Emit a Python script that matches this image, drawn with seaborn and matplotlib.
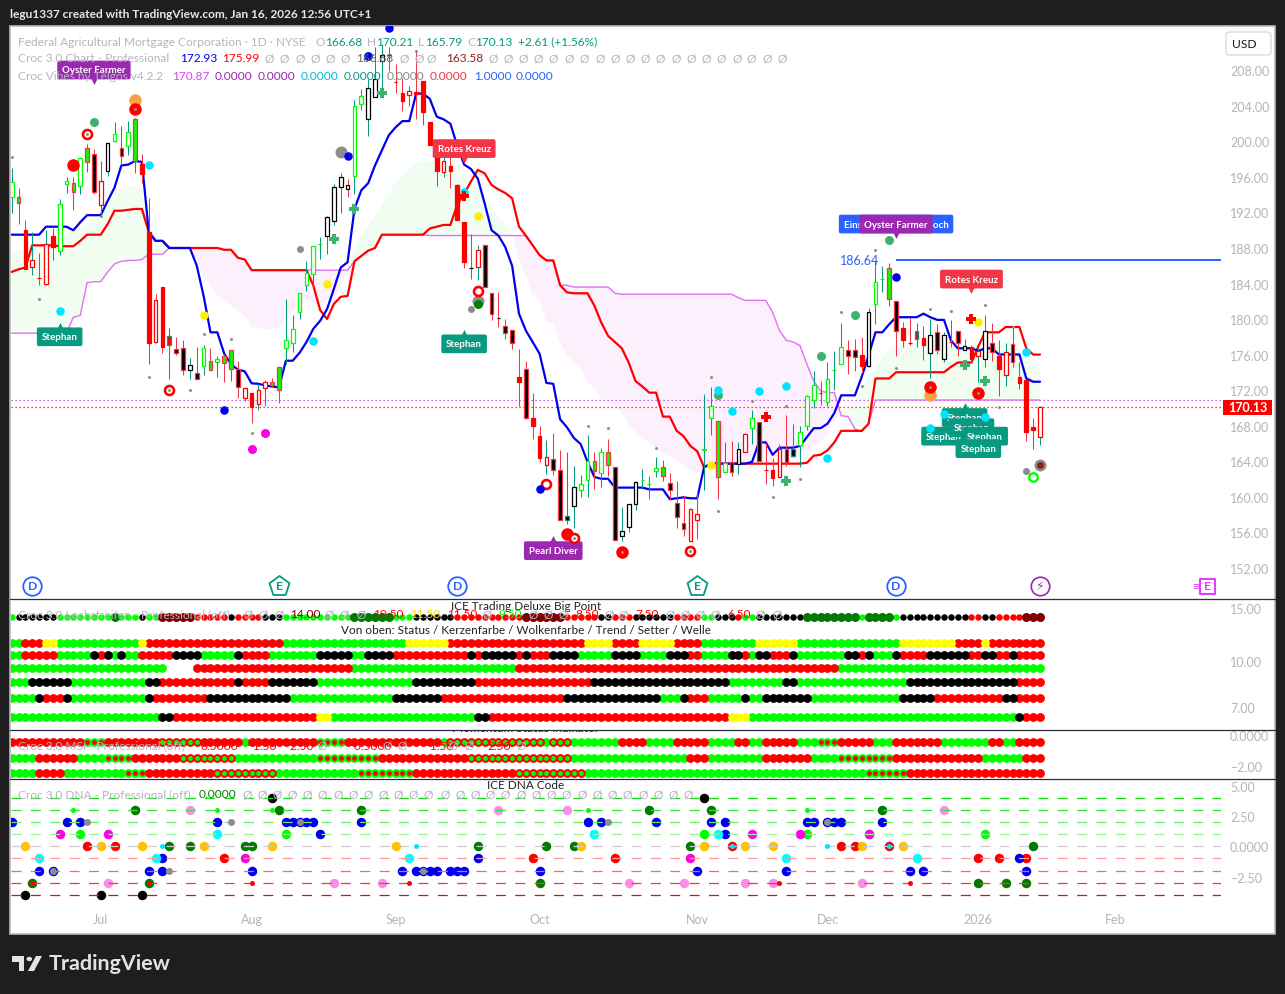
import matplotlib
matplotlib.use("Agg")

import matplotlib.pyplot as plt
from matplotlib.lines import Line2D
from matplotlib.patches import Rectangle, Polygon, Circle, FancyBboxPatch
import seaborn as sns
import numpy as np

W, H = 1285, 995
XMIN, XMAX = -0.17, 176.4

# candle bodies / wicks, prices
body_top = [195.4,193.8,190.0,186.6,184.6,188.5,189.3,193.0,195.6,195.3,
            198.1,199.3,198.6,195.5,199.8,200.9,199.3,201.1,202.5,197.5,
            189.8,182.1,183.6,178.05,176.6,176.7,174.8,173.9,176.7,175.3,
            175.5,175.8,176.5,174.4,172.2,171.7,172.0,172.9,172.9,174.6,
            177.6,178.9,182.9,185.2,188.2,188.5,191.5,194.9,196.0,195.1,
            204.0,205.1,206.0,207.0,209.7,209.8,206.7,205.5,205.7,205.6,
            206.8,202.2,198.4,197.8,197.2,195.1,190.9,185.8,187.8,188.3,
            182.9,180.1,179.2,178.8,173.5,174.4,168.9,166.8,164.4,164.2,
            163.0,157.8,161.1,161.4,164.0,164.0,165.0,165.0,163.3,156.1,
            159.2,161.6,161.9,161.4,163.2,163.3,161.5,159.3,157.0,158.6,
            158.0,165.4,170.2,168.5,163.8,163.9,165.4,167.0,168.9,168.4,
            163.0,163.0,165.3,165.4,165.3,167.3,171.3,172.6,171.7,173.2,
            174.2,176.8,176.5,176.5,176.0,180.8,184.2,184.5,185.8,182.0,
            179.0,177.3,178.6,177.9,178.2,178.5,178.2,177.4,178.6,177.0,
            176.8,176.4,178.6,177.3,175.8,176.3,177.2,173.5,173.1,167.8,
            170.13]
body_bot = [193.7,193.1,185.6,185.9,184.6,183.9,188.1,187.7,195.2,194.3,
            195.0,197.7,194.3,192.8,196.7,200.1,198.4,199.5,197.8,196.3,
            177.3,177.4,176.8,177.1,176.2,174.3,174.3,173.2,174.7,174.3,
            175.2,175.0,174.4,172.3,171.1,170.1,170.4,172.2,172.6,172.0,
            176.7,177.3,180.75,183.8,185.1,188.5,189.4,191.0,194.9,194.6,
            196.1,204.2,202.5,205.0,209.1,209.8,206.7,204.6,205.2,205.3,
            203.3,199.6,196.7,196.6,196.7,191.2,186.4,185.8,185.9,183.6,
            180.6,180.1,178.4,177.3,172.9,168.9,167.9,164.3,163.5,163.0,
            157.4,157.4,158.9,160.7,161.9,162.9,162.6,163.5,155.1,155.5,
            156.6,159.1,161.9,161.4,162.9,162.3,160.7,157.7,156.3,155.0,
            157.3,165.2,168.9,162.2,162.8,162.8,163.7,165.0,167.7,164.0,
            163.0,162.1,162.2,163.9,164.6,165.8,167.9,170.9,171.7,170.7,
            174.2,174.9,175.8,175.7,174.7,174.7,181.7,184.5,182.2,178.7,
            177.6,177.3,177.7,177.1,176.2,176.5,175.5,177.4,177.3,176.5,
            175.5,175.8,175.5,176.3,174.4,173.7,175.2,172.8,167.3,167.5,
            166.68]
wick_hi = [197.0,194.8,191.1,189.8,187.4,190.0,190.3,193.5,196.0,196.0,
           198.1,199.7,199.2,197.8,199.8,202.2,201.7,202.3,202.6,198.6,
           193.6,182.8,183.6,179.0,178.0,177.6,175.6,176.9,177.1,176.7,
           175.8,176.1,176.5,175.3,172.2,171.7,172.7,173.1,173.4,174.6,
           182.3,180.5,182.9,186.5,188.2,189.2,191.6,195.2,196.5,195.8,
           204.7,205.9,207.0,210.6,211.0,210.6,208.7,207.2,206.3,210.2,
           206.8,202.2,198.8,199.1,198.2,195.2,190.9,189.6,188.3,188.3,
           182.9,183.0,180.0,178.8,176.6,175.3,171.7,168.0,166.4,167.2,
           165.2,165.0,163.4,162.4,166.9,165.0,165.5,166.5,163.3,158.8,
           159.2,161.8,163.1,162.3,164.4,164.1,162.6,161.8,160.1,158.7,
           160.5,171.5,172.3,168.5,166.1,166.2,166.1,167.2,169.7,168.4,
           166.0,164.3,165.9,169.2,168.2,168.0,171.4,174.1,173.0,175.1,
           176.4,179.6,177.6,177.7,178.0,181.2,186.6,186.0,186.3,182.0,
           179.7,180.1,179.6,179.2,180.0,179.4,178.5,179.9,178.6,177.8,
           177.1,176.7,180.5,179.6,177.6,177.3,179.1,175.2,173.1,168.9,
           170.21]
wick_lo = [192.0,190.7,185.6,185.0,183.8,183.8,186.6,187.2,194.2,192.3,
           194.1,196.6,194.1,191.8,196.1,199.9,197.3,198.5,196.5,195.3,
           174.9,177.3,176.2,173.2,176.0,173.7,173.2,173.2,173.7,174.3,
           173.5,172.9,173.0,171.1,170.8,168.3,169.7,170.2,172.3,170.5,
           174.9,176.3,180.0,183.1,183.6,186.8,187.3,190.6,192.0,193.8,
           194.1,203.6,200.6,205.0,205.7,208.0,205.5,203.4,204.0,202.5,
           201.9,199.6,195.0,196.0,194.8,191.1,185.7,184.5,184.4,183.6,
           179.9,179.1,177.8,176.6,170.2,168.7,166.5,163.9,162.5,162.4,
           157.4,156.9,156.5,159.9,159.9,160.8,161.1,162.3,155.1,155.0,
           156.0,158.5,161.0,159.7,162.2,161.7,159.6,156.5,155.5,155.0,
           155.2,160.7,166.9,159.7,162.8,162.3,162.5,165.0,165.9,164.0,
           161.4,161.2,162.2,163.4,164.4,163.3,167.5,170.0,170.3,170.2,
           172.0,174.9,173.8,174.1,173.9,174.6,179.4,183.0,181.5,175.8,
           176.8,177.1,176.8,175.4,173.4,176.1,175.1,176.8,175.8,176.5,
           175.2,172.9,174.6,175.3,171.3,172.5,174.6,172.1,166.2,165.4,
           165.79]
# G hollow lime, H hollow red, W hollow black, R solid red, L lime+red edge,
# B black+red edge, T red+teal edge, K black+teal edge
body_style = ("GLRHRHRGGL" "GLBHWGBGLR" "RHRTBBWBGL" "GLLBHRHHLL"
              "GGGGGGWWWW" "GGWWWRRRHR" "RRRHRRRWHB" "BWBBRBRRHB"
              "BKWGGLGLBW" "WWGGGLBBBH" "HGGLGBWHGB" "RRHBKGGGRG"
              "GGBBRWGGLB" "RRTRWBWRBW" "RHWBRHBRRR" "H")
wick_style = ("trrtrtrttr" "trrtttrtrr" "rrrtrrtrtr" "trrrrrttrr"
              "tttttttttr" "tttttrrrtr" "rrrtrrrrtr" "rrrrrrrrtr"
              "rttttrtrrt" "tttrtrrrrt" "rttrtrtttr" "rrtrttttrt"
              "ttrrrtttrr" "rrtrtrtrrr" "rttrrtrrrt" "t")

kijun = [185.3,185.6,185.8,188.3,188.3,188.3,188.3,188.2,188.2,188.2,
         188.8,189.5,189.5,189.5,190.7,192.2,192.2,192.3,192.4,192.4,
         189.8,188.8,188.8,188.0,188.0,188.0,188.0,188.0,188.0,188.0,
         188.0,187.8,187.8,186.9,186.7,185.5,185.5,185.5,185.5,185.5,
         185.5,185.5,185.5,185.5,183.8,181.0,180.0,181.7,182.5,182.6,
         186.5,187.1,187.7,188.0,189.5,189.5,189.5,189.5,189.5,189.5,
         189.5,190.2,190.4,190.6,190.6,192.9,194.1,195.5,196.8,196.4,
         195.1,194.6,194.2,193.6,190.4,189.4,188.3,187.2,186.6,186.6,
         183.8,183.0,182.9,182.9,182.9,181.5,179.6,178.1,177.4,176.7,
         175.1,173.0,172.4,171.7,171.7,169.0,169.0,167.4,166.8,165.7,
         165.1,163.3,163.7,163.7,163.7,163.7,163.7,163.7,163.7,163.7,
         163.7,163.7,163.7,163.7,163.7,163.7,163.8,164.6,164.7,165.2,
         166.1,167.4,167.4,167.4,167.4,168.2,173.3,173.3,173.3,174.0,
         174.0,174.0,174.0,174.0,174.0,174.0,174.0,174.6,175.1,175.1,
         175.1,176.9,178.5,178.5,178.5,179.1,179.1,179.1,176.7,175.99,
         175.99]
tenkan = [189.5,189.5,189.5,189.5,189.5,190.4,190.4,190.4,190.4,190.0,
          190.9,191.7,191.7,191.7,193.3,194.8,197.3,197.4,197.8,197.7,
          189.8,188.8,188.8,188.0,188.0,188.0,188.0,186.0,182.6,178.5,
          178.5,176.1,174.9,174.3,174.1,172.75,172.7,172.5,172.4,172.3,
          175.3,175.3,176.2,177.4,178.9,179.8,181.1,183.4,185.8,186.4,
          192.4,194.5,195.3,197.3,199.0,200.7,201.6,202.3,202.3,205.4,
          205.4,204.8,202.8,202.5,202.0,199.5,197.4,196.9,195.8,193.0,
          190.0,189.4,188.1,186.0,180.6,178.7,177.4,176.1,172.8,172.7,
          168.7,167.8,166.6,165.9,163.9,162.2,162.0,162.0,161.0,161.0,
          161.0,161.0,161.0,160.8,160.8,160.8,159.7,159.8,159.9,159.8,
          159.8,163.3,163.7,163.7,163.7,163.7,163.7,163.7,163.9,166.1,
          166.1,164.7,165.5,165.5,165.5,165.7,166.7,167.7,167.7,168.2,
          169.4,171.4,171.4,171.4,173.5,175.9,178.5,178.5,179.4,180.2,
          180.2,180.2,180.2,180.6,180.2,179.9,179.9,177.6,176.7,176.7,
          176.7,176.4,176.7,176.7,176.0,176.0,176.0,176.0,173.3,172.93,
          172.93]
span_a = [187.5,187.7,187.9,188.1,188.3,188.6,188.8,189.0,189.6,190.0,
          190.3,190.7,191.1,191.6,192.8,194.1,194.8,195.0,195.0,194.6,
          190.5,189.8,189.0,187.9,188.0,188.0,188.0,186.4,184.9,183.8,
          182.6,182.1,181.5,180.9,180.4,179.2,178.9,178.9,178.9,179.0,
          180.0,180.8,181.5,182.25,181.7,181.7,182.3,181.9,183.8,185.6,
          187.9,189.4,190.5,191.6,192.8,194.1,195.4,196.1,196.9,197.5,
          197.7,197.8,198.0,197.8,197.3,196.7,196.0,195.4,194.8,193.9,
          192.6,191.6,190.7,189.8,186.8,184.9,182.6,182.25,179.6,179.6,
          177.4,175.9,175.1,174.4,172.9,172.1,171.0,170.6,170.2,169.3,
          168.2,167.2,166.5,166.1,165.5,164.8,164.6,164.0,163.5,162.9,
          162.7,163.1,163.9,163.9,163.9,163.9,163.9,163.9,163.9,163.9,
          163.9,163.9,164.1,164.2,164.3,164.6,165.2,165.7,166.1,167.0,
          168.5,169.7,169.9,170.7,172.2,173.5,174.4,175.6,176.5,176.9,
          177.1,177.2,177.4,177.3,177.2,177.0,176.9,176.9,176.9,176.8,
          176.8,176.9,176.9,177.2,177.4,177.4,177.4,176.5,175.9,174.8,
          174.4]
span_b = [178.4,178.4,178.4,178.4,178.4,178.4,178.4,178.4,178.4,180.2,
          180.4,184.1,184.2,184.2,185.3,186.2,186.5,186.6,186.6,186.7,
          187.3,187.3,187.3,188.0,188.0,188.0,188.0,188.0,188.0,188.0,
          188.0,187.8,187.8,186.9,186.7,185.5,185.5,185.5,185.5,185.5,
          185.5,185.5,185.5,185.5,185.5,185.5,185.5,185.5,185.5,185.5,
          186.5,187.1,187.7,188.0,189.5,189.5,189.5,189.5,189.5,189.5,
          189.5,189.4,189.4,189.4,189.4,189.4,189.4,189.4,189.4,189.4,
          189.4,189.4,189.4,189.4,189.4,189.4,188.3,187.2,186.6,186.6,
          183.8,183.8,183.6,183.6,183.6,183.6,183.6,183.6,182.9,182.8,
          182.8,182.8,182.8,182.8,182.8,182.8,182.8,182.8,182.8,182.8,
          182.8,182.8,182.8,182.8,182.8,182.8,182.4,182.1,182.1,182.1,
          182.1,180.75,178.7,177.6,177.4,177.0,174.9,173.0,171.9,171.7,
          171.7,169.1,169.0,167.6,167.3,168.2,170.87,170.87,170.87,170.87,
          170.87,170.87,170.87,170.87,170.87,170.87,170.87,170.87,170.87,170.87,
          170.87,170.87,170.87,170.87,170.87,170.87,170.87,170.87,170.87,170.87,
          170.87]

last_close = 170.13
cloud_edge = 170.87
level_price = 186.64
level_start = 129

price_ticks = [152,156,160,164,168,172,176,180,184,188,192,196,200,204,208]
time_ticks = [13, 35, 56, 77, 100, 119, 141, 161]
time_labels = ["Jul", "Aug", "Sep", "Oct", "Nov", "Dec", "2026", "Feb"]

# indicator marks on the price pane
tiny_bars = [0,59,13,4,20,26,23,28,32,35,84,87,94,102,103,108,113,115,111,121,
             126,124,129,134,137,142,146,144,11,18,82,89,99,134,141]
tiny_prices = [198.2,210.2,191.6,182.3,173.5,172.0,172.0,178.3,177.7,167.1,168.0,167.7,
               165.5,173.5,158.4,170.8,170.2,162.0,160.0,180.8,187.8,172.4,174.5,181.1,
               180.9,181.6,179.1,170.1,200.9,203.7,155.3,153.7,153.9,172.3,171.7]
red_ring_bars = [11,23,68,78,82,99]
red_ring_prices = [200.9,172.0,183.2,161.4,155.3,153.9]
red_disc_bars = [9,81,18,89,134,141]
red_disc_prices = [197.4,155.8,203.7,153.7,172.3,171.7]
big_gray_bars = [48,68,150]
big_gray_prices = [198.8,182.0,163.6]
mid_gray_bars = [42,67,148]
mid_gray_prices = [187.9,181.1,162.9]
blue_bars = [55,52,49,31,77,129]
blue_prices = [212.8,209.6,198.4,169.7,160.9,184.7]
seagreen_bars = [12,52,103,118,123,128]
seagreen_prices = [202.2,209.6,171.4,175.8,180.5,188.9]
orange_bars = [18,134]
orange_prices = [204.7,171.4]
cyan_bars = [20,7,44,66,103,105,109,113,119,148,136,134,142]
cyan_prices = [197.3,180.9,177.5,194.3,172.0,169.6,171.9,172.4,164.3,176.3,169.3,167.7,169.0]
yellow_bars = [46,28,68,102,141]
yellow_prices = [183.9,180.5,191.6,163.5,179.7]
magenta_bars = [37,35]
magenta_prices = [167.1,165.3]
plus_green_bars = [47,50,54,113,139,142]
plus_green_prices = [189.0,192.4,205.5,161.7,174.8,173.0]
plus_red_bars = [66,110,140]
plus_red_prices = [193.9,169.0,180.0]

# text, bar, price, colour, pointer direction
signal_labels = [
    ("Oyster Farmer", 12, 208.06, "#9c27b0", "v"),
    ("Stephan", 7, 178.0, "#089981", "^"),
    ("Stephan", 66, 177.2, "#089981", "^"),
    ("Rotes Kreuz", 66, 199.2, "#f23645", "v"),
    ("Pearl Diver", 79, 153.9, "#9c27b0", "^"),
    ("Einstieg nach dem Hoch", 129, 190.7, "#2962ff", ""),
    ("Oyster Farmer", 129, 190.7, "#9c27b0", "v"),
    ("Rotes Kreuz", 140, 184.5, "#f23645", "v"),
    ("Stephan", 139, 168.9, "#089981", "^"),
    ("Stephan", 136, 166.8, "#089981", ""),
    ("Stephan", 140, 167.75, "#089981", ""),
    ("Stephan", 142, 166.8, "#089981", ""),
    ("Stephan", 141, 165.4, "#089981", ""),
]

# (first bar of the run, colour code); o = no dot
row_big_point = [(0,"g"),(1,"k"),(7,"g"),(15,"G"),(16,"g"),(19,"k"),(20,"g"),(22,"D"),(27,"r"),
                 (32,"k"),(33,"r"),(37,"k"),(40,"g"),(50,"G"),(56,"g"),(59,"k"),(65,"r"),(75,"D"),
                 (81,"r"),(86,"k"),(88,"r"),(91,"k"),(97,"r"),(101,"g"),(103,"k"),(106,"r"),
                 (107,"g"),(109,"k"),(116,"G"),(124,"g"),(125,"G"),(129,"g"),(130,"k"),(140,"r"),
                 (142,"k"),(144,"r"),(148,"D")]
row_status = [(0,"g"),(2,"r"),(5,"y"),(7,"g"),(19,"y"),(20,"r"),(40,"g"),(58,"y"),(64,"r"),
              (84,"y"),(88,"r"),(92,"y"),(97,"r"),(101,"g"),(109,"y"),(115,"g"),(130,"y"),
              (138,"r"),(142,"y"),(143,"r")]
row_candle = [(0,"g"),(2,"r"),(7,"g"),(12,"k"),(13,"r"),(14,"k"),(15,"g"),(16,"k"),(17,"g"),
              (19,"r"),(24,"k"),(28,"g"),(33,"k"),(34,"r"),(38,"g"),(45,"k"),(50,"g"),(52,"k"),
              (56,"r"),(67,"k"),(68,"r"),(69,"k"),(74,"r"),(75,"k"),(76,"r"),(79,"k"),(83,"g"),
              (88,"k"),(92,"g"),(96,"k"),(99,"r"),(101,"g"),(105,"k"),(107,"r"),(108,"g"),
              (109,"k"),(111,"r"),(114,"k"),(115,"g"),(122,"k"),(124,"r"),(125,"k"),(126,"g"),
              (129,"k"),(130,"r"),(134,"k"),(140,"r"),(142,"k"),(144,"r"),(146,"k"),(147,"r")]
row_cloud = [(0,"g"),(23,"o"),(27,"r"),(50,"g"),(74,"r"),(121,"g")]
row_trend = [(0,"g"),(3,"k"),(9,"g"),(20,"k"),(22,"r"),(33,"k"),(34,"r"),(38,"k"),(45,"g"),
             (59,"k"),(68,"r"),(85,"k"),(105,"g"),(113,"k"),(115,"g"),(131,"k"),(147,"r")]
row_setter = [(0,"g"),(4,"k"),(5,"r"),(8,"k"),(9,"g"),(20,"k"),(21,"r"),(29,"k"),(41,"g"),
              (56,"k"),(63,"r"),(81,"k"),(95,"g"),(98,"k"),(99,"r"),(102,"g"),(107,"k"),
              (108,"g"),(110,"k"),(117,"g"),(130,"k"),(135,"r"),(145,"k"),(147,"r")]
row_wave = [(0,"g"),(22,"k"),(24,"r"),(45,"y"),(47,"g"),(68,"k"),(70,"r"),(105,"y"),(108,"g"),
            (147,"k"),(148,"r")]
row_values = [14.0, 11.5, 10.5, 9.5, 8.5, 7.5, 6.5]

# g lime, r red, m red ring with lime centre, n lime with red centre
msi_a = [(0,"r"),(11,"n"),(14,"r"),(22,"m"),(28,"r"),(34,"g"),(35,"r"),(45,"n"),(49,"r"),(63,"g"),
         (64,"m"),(78,"g"),(79,"m"),(82,"g"),(89,"r"),(93,"g"),(97,"r"),(102,"g"),(106,"r"),
         (108,"g"),(110,"r"),(115,"g"),(118,"n"),(121,"r"),(126,"g"),(129,"r"),(136,"g"),
         (143,"r"),(145,"g"),(147,"r")]
msi_b = [(0,"g"),(4,"r"),(10,"g"),(14,"n"),(18,"r"),(25,"m"),(33,"g"),(45,"n"),(54,"r"),(67,"m"),
         (82,"g"),(99,"r"),(102,"g"),(110,"r"),(117,"g"),(121,"n"),(129,"r"),(142,"g"),(148,"r")]
msi_c = [(0,"g"),(4,"r"),(8,"g"),(17,"n"),(20,"r"),(30,"m"),(39,"g"),(51,"n"),(59,"r"),(74,"m"),
         (84,"g"),(125,"n"),(131,"r")]
msi_values = [-0.5, -1.5, -2.5]

# DNA dots as (bar, level)
dna_levels = [4,3,2,1,0,-1,-2,-3,-4]
dna_level_colors = ["#11dd11","#33e633","#66ee66","#99f299","#cccccc","#ff9999","#ff6666","#ff3333","#ff0000"]
dna_darkgreen = [(18,3),(39,3),(51,3),(93,3),(102,3),(127,3),(23,0),(26,0),(34,0),(35,0),(68,0),(78,0),
                 (82,0),(99,0),(149,0),(3,-3),(20,-3),(77,-3),(141,-3),(145,-3),(148,-3)]
dna_lime = [(10,1),(40,1),(101,1),(116,1),(142,1),(125,1)]
dna_red = [(11,0),(15,0),(121,0),(123,0),(31,-1),(76,-1),(88,-1),(141,-1),(144,-1),(148,-1)]
dna_blue = [(0,2),(8,2),(10,2),(30,2),(40,2),(41,2),(42,2),(43,2),(44,2),(51,2),(45,1),(22,-1),(4,-2),(6,-2),
            (20,-2),(22,-2),(35,-2),(57,-2),(59,-2),(60,-2),(61,-2),(84,2),(86,2),(94,2),(102,2),(104,2),
            (116,2),(117,2),(119,2),(120,2),(121,2),(104,1),(68,-1),(62,-2),(64,-2),(65,-2),(66,-2),(77,-2),
            (100,-2),(113,-2),(127,2),(147,-1),(131,-2),(133,-2),(148,-2)]
dna_gray = [(11,2),(32,2),(42,2),(6,-2),(23,-2),(60,-2),(87,2),(119,2)]
dna_pink = [(26,3),(71,3),(81,3),(136,3),(14,-3),(47,-3),(54,-3),(90,-3),(98,-3),(107,-3),(111,-3),(124,-3)]
dna_magenta = [(7,1),(14,1),(108,1),(115,1),(125,1),(34,-1),(99,-1)]
dna_cyan = [(30,1),(85,1),(103,1),(4,-1),(21,-1),(58,-1),(113,-1),(132,-1)]
dna_amber = [(2,0),(13,0),(19,0),(28,0),(38,0),(56,0),(83,0),(101,0),(107,0),(111,0),(124,0),(130,0)]
dna_black = [(38,4),(101,4),(2,-4),(13,-4),(19,-4)]
dna_lime_small = [(9,3),(30,3),(38,3),(84,3),(116,3)]
dna_cyan_small = [(22,0),(59,0),(119,0),(105,0),(128,0)]
dna_red_small = [(3,-3),(20,-3),(35,-3),(58,-3),(112,-3),(131,-3)]
dna_ring = [(105,0),(128,0)]

LIME = "#00ff00"
RED = "#ff0000"
TEAL = "#089981"
WICK_RED = "#f23645"
GRAY = "#b2b5be"
BLUE = "#0000f0"
ROW_COLORS = {"g": LIME, "r": RED, "k": "#000000", "y": "#ffff00", "G": "#007a00", "D": "#800000"}


def px_size(d):
    return (d * 0.72) ** 2


def expand(runs, n=151):
    codes = []
    for k, (start, code) in enumerate(runs):
        end = runs[k + 1][0] if k + 1 < len(runs) else n
        codes += [code] * (end - start)
    return codes


def ftext(px, py, s, color=GRAY, size=11.9, ha="left", **kw):
    return fig.text(px / W, 1 - py / H, s, color=color, fontsize=size * 0.72, ha=ha, va="center", zorder=20, **kw)


def make_pane(top, bottom):
    ax = fig.add_axes([10.5 / W, 1 - bottom / H, (1221 - 10.5) / W, (bottom - top) / H])
    ax.set_xlim(XMIN, XMAX)
    ax.patch.set_alpha(0)
    for s in ax.spines.values():
        s.set_visible(False)
    ax.yaxis.tick_right()
    ax.tick_params(axis="y", length=0, pad=6.5, labelsize=9.0, labelcolor=GRAY)
    ax.tick_params(axis="x", length=0, labelbottom=False)
    ax.set_xlabel("")
    ax.set_ylabel("")
    return ax


def dots(ax, bars, values, color, d, marker="o", z=4, **kw):
    sns.scatterplot(x=bars, y=values, color=color, s=px_size(d), marker=marker,
                    linewidth=kw.pop("linewidth", 0), legend=False, ax=ax, zorder=z, clip_on=True, **kw)


def dna_dots(ax, pairs, color, d, z=3):
    bars = [p[0] for p in pairs]
    levels = [p[1] for p in pairs]
    dots(ax, bars, levels, color, d, z=z)


def fig_rect(x0, y0, x1, y1, **kw):
    r = Rectangle((x0 / W, 1 - y1 / H), (x1 - x0) / W, (y1 - y0) / H, transform=fig.transFigure, **kw)
    fig.add_artist(r)


sns.set_theme(style="white")
plt.rcParams["font.family"] = ["Lato", "DejaVu Sans"]
plt.rcParams["axes.unicode_minus"] = False

fig = plt.figure(figsize=(W / 100, H / 100), dpi=100, facecolor="#1e1e1e")
fig_rect(10, 27, 1275, 935, facecolor="white", edgecolor="#b8b8b8", linewidth=1.2, zorder=-5)

# price pane
ax = make_pane(27, 599)
ax.set_ylim(172 + (391 - 599) / 8.875, 172 + (391 - 27) / 8.875)
bars = np.arange(len(body_top))
a = np.array(span_a)
b = np.array(span_b)
ax.fill_between(bars, a, b, where=a >= b, interpolate=True, color="#f1fdf1", linewidth=0, zorder=1)
ax.fill_between(bars, a, b, where=a < b, interpolate=True, color="#fdf0fd", linewidth=0, zorder=1)
ax.axhline(cloud_edge, color="#c23fe0", lw=0.9, ls=(0, (1, 2.2)), zorder=1.5)
ax.axhline(last_close, color=RED, lw=0.9, ls=(0, (1, 2.2)), zorder=1.5)
ax.hlines(level_price, level_start, XMAX, color="#2962ff", lw=1.4, zorder=1.5)
sns.lineplot(x=bars, y=span_b, color="#e26ff5", lw=1.0, estimator=None, ax=ax, zorder=2, legend=False)
sns.lineplot(x=bars, y=kijun, color=RED, lw=1.6, estimator=None, ax=ax, zorder=2.2, legend=False)
sns.lineplot(x=bars, y=tenkan, color=BLUE, lw=1.6, estimator=None, ax=ax, zorder=2.3, legend=False)

face = {"G": "white", "H": "white", "W": "white", "R": RED, "L": LIME, "B": "black", "T": RED, "K": "black"}
edge = {"G": LIME, "H": RED, "W": "black", "R": RED, "L": WICK_RED, "B": WICK_RED, "T": TEAL, "K": TEAL}
wick_colors = [TEAL if c == "t" else WICK_RED for c in wick_style]
ax.vlines(bars, wick_lo, wick_hi, colors=wick_colors, lw=0.75, zorder=3)
heights = np.array(body_top) - np.array(body_bot)
ax.bar(bars, heights, bottom=body_bot, width=0.54,
       color=[face[c] for c in body_style], edgecolor=[edge[c] for c in body_style],
       linewidth=0.9, zorder=3.2)

for label, bar, price, color, pointer in signal_labels:
    ax.text(bar, price, label, color="white", fontsize=7.0, weight="bold", ha="center", va="center", zorder=3.5,
            bbox=dict(boxstyle="round,pad=0.5,rounding_size=0.2", fc=color, ec="none"))
    if pointer == "v":
        dots(ax, [bar], [price - 1.15], color, 9, marker="v", z=3.5)
    elif pointer == "^":
        dots(ax, [bar], [price + 1.15], color, 9, marker="^", z=3.5)

dots(ax, big_gray_bars, big_gray_prices, "#8d8d8d", 12)
dots(ax, mid_gray_bars, mid_gray_prices, "#8d8d8d", 7)
dots(ax, orange_bars, orange_prices, "#ff9f43", 12.5)
dots(ax, red_disc_bars, red_disc_prices, RED, 12.5)
dots(ax, red_ring_bars, red_ring_prices, "white", 9, edgecolor=RED, linewidth=1.9)
dots(ax, seagreen_bars, seagreen_prices, "#3cb371", 9)
dots(ax, [68], [181.7], "#008000", 9)
dots(ax, [150], [163.6], "#8b2020", 7)
dots(ax, blue_bars, blue_prices, BLUE, 8.5)
dots(ax, cyan_bars, cyan_prices, "#00e5ff", 8.5)
dots(ax, yellow_bars, yellow_prices, "#ffee00", 8.5)
dots(ax, magenta_bars, magenta_prices, "#ff00e6", 9)
dots(ax, [149], [162.2], "white", 8.5, edgecolor=LIME, linewidth=1.7)
dots(ax, tiny_bars, tiny_prices, "#8d8d8d", 3)
dots(ax, plus_green_bars, plus_green_prices, "#3cb371", 9.5, marker="P")
dots(ax, plus_red_bars, plus_red_prices, RED, 9.5, marker="P")

ax.set_yticks(price_ticks, labels=[f"{p:.2f}" for p in price_ticks])
ax.set_xticks([])

# event icons along the bottom of the price pane
icon_y = 172 + (391 - 587) / 8.875
dots(ax, [3, 65, 129], [icon_y] * 3, "white", 18.5, edgecolor="#2962ff", linewidth=1.3, z=6)
dots(ax, [39, 100], [icon_y] * 2, "white", 21, marker="p", edgecolor=TEAL, linewidth=1.3, z=6)
dots(ax, [150], [icon_y], "white", 18.5, edgecolor="#9c27b0", linewidth=1.2, z=6)
dots(ax, [174.4], [icon_y], "white", 15, marker="s", edgecolor="#e040fb", linewidth=1.5, z=6)
for bar, letter, color in [(3, "D", "#2962ff"), (65, "D", "#2962ff"), (129, "D", "#2962ff"),
                           (39, "E", TEAL), (100, "E", TEAL), (150, "\u26a1", "#9c27b0"), (174.4, "E", "#e040fb")]:
    ax.text(bar, icon_y, letter, color=color, fontsize=8.8, weight="bold", ha="center", va="center", zorder=7)
ax.text(172.7, icon_y, "\u2261", color="#e040fb", fontsize=9, ha="center", va="center", zorder=7)
ax.text(126.5, level_price, "186.64", color="#2962ff", fontsize=9, ha="right", va="center", zorder=3)

# status dots
ax2 = make_pane(599.5, 730)
ax2.set_yscale("log")
ax2.set_ylim(15 * np.exp(-121 / 129.9), 15 * np.exp(10 / 129.9))
ax2.set_yticks([15, 10, 7], labels=["15.00", "10.00", "7.00"])
ax2.minorticks_off()
ax2.set_xticks([])
all_rows = [row_big_point, row_status, row_candle, row_cloud, row_trend, row_setter, row_wave]
for value, runs in zip(row_values, all_rows):
    codes = expand(runs)
    for code, color in ROW_COLORS.items():
        xs = [i for i, c in enumerate(codes) if c == code]
        if not xs:
            continue
        if runs is row_big_point:
            d = 9 if code in "GD" else 6.5
        else:
            d = 8.8
        dots(ax2, xs, [value] * len(xs), color, d)

# momentum dots
ax3 = make_pane(730.5, 779)
ax3.set_ylim(-2 - (779 - 766.7) / 15.5, (735.7 - 730.5) / 15.5)
ax3.set_yticks([0, -2], labels=["0.0000", "\u22122.00"])
ax3.set_xticks([])
for value, runs in zip(msi_values, [msi_a, msi_b, msi_c]):
    codes = expand(runs)
    lime_x = [i for i, c in enumerate(codes) if c in "gn"]
    red_x = [i for i, c in enumerate(codes) if c in "rm"]
    n_x = [i for i, c in enumerate(codes) if c == "n"]
    m_x = [i for i, c in enumerate(codes) if c == "m"]
    dots(ax3, lime_x, [value] * len(lime_x), LIME, 8.8)
    dots(ax3, red_x, [value] * len(red_x), RED, 8.8)
    if n_x:
        dots(ax3, n_x, [value] * len(n_x), RED, 4.8, z=5)
    if m_x:
        dots(ax3, m_x, [value] * len(m_x), LIME, 4.8, z=5)
ax3.text(0.4257, (735.7 - 728.5) / 15.5, "Momentum Status Indikator", color="#222222", fontsize=8.6,
         ha="center", va="center", transform=ax3.get_yaxis_transform(), clip_on=True, zorder=6)

# DNA pane
ax4 = make_pane(780, 907)
ax4.set_ylim(-(907 - 847.3) / 12.1, (847.3 - 780) / 12.1)
ax4.set_yticks([5, 2.5, 0, -2.5], labels=["5.00", "2.50", "0.0000", "\u22122.50"])
for lev, color in zip(dna_levels, dna_level_colors):
    ax4.axhline(lev, color=color, lw=0.9, ls=(0, (8, 7.5)), zorder=4)
dna_dots(ax4, dna_darkgreen, "#007a00", 9.5)
dna_dots(ax4, dna_lime, LIME, 9.5)
dna_dots(ax4, dna_red, RED, 9.5)
dna_dots(ax4, dna_blue, BLUE, 9.5)
dna_dots(ax4, dna_pink, "#fb8fe8", 9.5)
dna_dots(ax4, dna_magenta, "#ff00e6", 9.5)
dna_dots(ax4, dna_cyan, "#00ffff", 9.5)
dna_dots(ax4, dna_amber, "#ffc107", 9.5)
dna_dots(ax4, dna_black, "#000000", 9.5)
dna_dots(ax4, dna_ring, RED, 9.5)
dna_dots(ax4, dna_gray, "#8d8d8d", 7, z=5)
dna_dots(ax4, dna_lime_small, LIME, 5, z=5)
dna_dots(ax4, dna_cyan_small, "#00e5ff", 5, z=5)
dna_dots(ax4, dna_red_small, RED, 5, z=5)
ax4.set_xticks(time_ticks, labels=time_labels)
ax4.tick_params(axis="x", labelbottom=True, labelsize=9.0, labelcolor=GRAY, pad=5)

for y in [599.5, 730.5, 779.5]:
    fig.add_artist(Line2D([10 / W, 1275 / W], [1 - y / H, 1 - y / H], color="#2a2e39", lw=0.9, zorder=8))

# pane headers
ftext(526, 606, "ICE Trading Deluxe Big Point", color="#222222", size=11.8, ha="center")
ftext(526, 631, "Von oben: Status / Kerzenfarbe / Wolkenfarbe / Trend / Setter / Welle", color="#222222", size=11.8, ha="center")
ftext(526, 786, "ICE DNA Code", color="#222222", size=11.8, ha="center")

# top strip and legends
ftext(10, 14, "legu1337 created with TradingView.com, Jan 16, 2026 12:56 UTC+1", color="#e8e8e8", size=11.9, weight="bold")
L1 = 42
ftext(18, L1, "Federal Agricultural Mortgage Corporation \u00b7 1D \u00b7 NYSE")
for x, s, c in [(316, "O", GRAY), (325, "166.68", TEAL), (367, "H", GRAY), (376, "170.21", TEAL), (418, "L", GRAY),
                (425, "165.79", TEAL), (467, "C", GRAY), (475, "170.13", TEAL), (518, "+2.61 (+1.56%)", TEAL)]:
    ftext(x, L1, s, color=c)
L2 = 59
ftext(18, L2, "Croc 3.0 Chart - Professional")
ftext(180, L2, "172.93", color=BLUE)
ftext(222, L2, "175.99", color=RED)
for x in [269, 284, 300, 315, 330, 345, 404, 419, 431]:
    ftext(x, L2, "\u00d8", ha="center")
ftext(356, L2, "166.68", color="#666666")
ftext(446, L2, "163.58", color="#8b2020")
for x in [493, 508, 523, 538, 553, 569, 584, 600, 615, 630, 645, 660, 676, 691, 706, 721, 737, 751, 767, 782]:
    ftext(x, L2, "\u00d8", ha="center")
L3 = 76
ftext(18, L3, "Croc Vibes by Telgos v4.2.2")
for x, s, c in [(172, "170.87", "#e040fb"), (215, "0.0000", "#9c27b0"), (258, "0.0000", "#9c27b0"), (301, "0.0000", "#00bcd4"),
                (344, "0.0000", TEAL), (387, "0.0000", "#888888"), (430, "0.0000", "#f23645"), (474, "1.0000", "#2962ff"),
                (516, "0.0000", "#2962ff")]:
    ftext(x, L3, s, color=c)
L4 = 615
ftext(18, L4, "Croc 3.0 Lochstreifen - Professional (off)")
for x in [248, 263, 279, 329, 344, 361, 487, 533, 548, 563, 609, 623, 670, 685, 700, 715, 760, 777]:
    ftext(x, L4, "\u00d8", ha="center")
for x, s, c in [(290, "14.00", "#8b0000"), (373, "10.50", RED), (410, "11.50", "#f5d90a"), (447, "11.50", RED),
                (498, "9.50", LIME), (575, "8.50", RED), (635, "7.50", RED), (727, "6.50", RED)]:
    ftext(x, L4, s, color=c)
L5 = 746
ftext(18, L5, "Croc 3.0 MSI - Professional (off)")
for x, s, c in [(201, "0.5000", RED), (246, "\u22121.50", RED), (283, "\u22122.50", RED), (347, "\u22120.5000", RED),
                (423, "\u22121.50", RED), (487, "2.50", RED)]:
    ftext(x, L5, s, color=c)
for x in [322, 387, 402, 453, 469, 521]:
    ftext(x, L5, "\u00d8", ha="center")
L6 = 795
ftext(18, L6, "Croc 3.0 DNA - Professional (off)")
ftext(199, L6, "0.0000", color="#008000")
for x in [247, 262, 277, 292, 307, 322, 338, 353, 368, 383, 398, 413, 428, 445, 460, 475, 490, 505, 521, 536,
          551, 566, 582, 597, 612, 627, 643, 658, 673, 688]:
    ftext(x, L6, "\u00d8", ha="center")

# USD box and last price tag
fig.add_artist(FancyBboxPatch((1226 / W, 1 - 56 / H), 45 / W, 23 / H, boxstyle="round,pad=0,rounding_size=0.003",
                              transform=fig.transFigure, facecolor="white", edgecolor="#d6d8de", lw=0.9, zorder=15))
ftext(1244, 44.5, "USD", color="#131722", size=12, ha="center")
fig_rect(1223, 401, 1272, 416, facecolor=RED, edgecolor="none", zorder=15)
ftext(1248, 408.5, "170.13", color="white", size=12.5, ha="center", weight="bold")

# TradingView mark
mark = "#e3e3e3"
for pts in [[(12, 957), (24, 957), (24, 972), (19, 972), (19, 963), (12, 963)],
            [(36, 957), (42, 957), (34, 972), (28, 972)]]:
    fig.add_artist(Polygon([(x / W, 1 - y / H) for x, y in pts], closed=True, transform=fig.transFigure,
                           facecolor=mark, edgecolor="none", zorder=15))
fig.add_artist(Circle((29.3 / W, 1 - 960 / H), 2.8 / W, transform=fig.transFigure, facecolor=mark, edgecolor="none", zorder=15))
ftext(49, 964.5, "TradingView", color=mark, size=21.5, weight="bold")

fig.savefig("out.png", dpi=100)
plt.close(fig)
